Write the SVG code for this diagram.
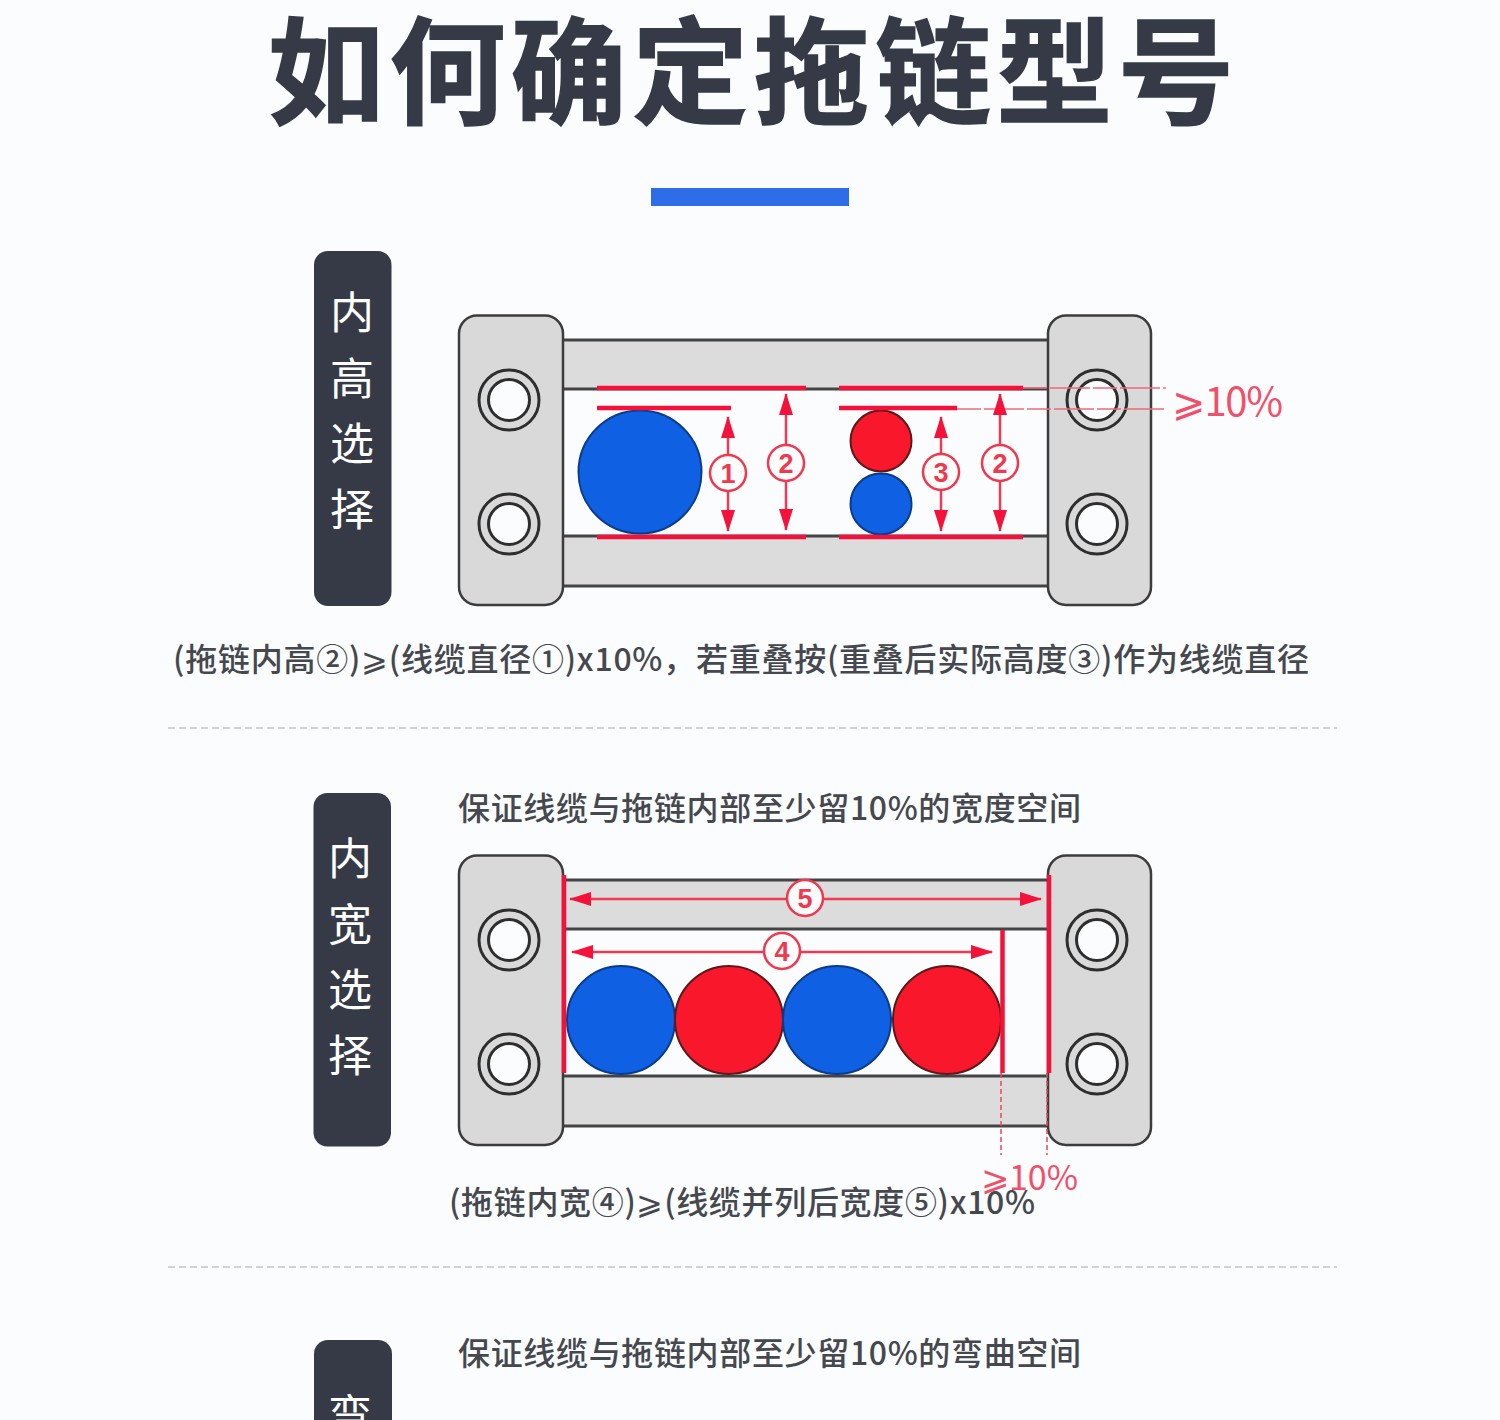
<svg xmlns="http://www.w3.org/2000/svg" xmlns:xlink="http://www.w3.org/1999/xlink" width="1500" height="1420" viewBox="0 0 1500 1420">
<style>
text{font-family:"Liberation Sans","Noto Sans CJK SC",sans-serif}
.cjk{font-family:"Noto Sans CJK SC",sans-serif}
.title{font-size:116px;font-weight:700;fill:#353a46;stroke:#353a46;stroke-width:1.500;font-family:"Noto Sans CJK SC",sans-serif}
.cap{font-size:32px;font-weight:500;fill:#45484e;font-family:"Noto Sans CJK SC",sans-serif}
.side{font-size:44px;fill:#fff;text-anchor:middle;font-family:"Noto Sans CJK SC",sans-serif}
.pill{fill:#353a46}
.block{fill:#d9d9d9;stroke:#3c3c3c;stroke-width:2.5}
.bar{fill:#dcdcdc}
.edge{stroke:#444;stroke-width:3;fill:none}
.holeo{fill:none;stroke:#2e2e2e;stroke-width:3}
.holei{fill:#fbfcfe;stroke:#2e2e2e;stroke-width:3}
.blue{fill:#0f60e2;stroke:#0b3c8c;stroke-width:2}
.red{fill:#f8172b;stroke:#5a1a1a;stroke-width:2}
.rl{stroke:#f4123a;stroke-width:4.5;fill:none}
.arr{stroke:#f03a52;stroke-width:2.5;fill:none;marker-start:url(#ah);marker-end:url(#ah)}
.dash{stroke:#ee6a7c;stroke-width:1.5;fill:none;stroke-dasharray:24 3 40 3}
.dash2{stroke:#e8485e;stroke-width:1.5;fill:none;stroke-dasharray:5 3}
.num{fill:#fdfdfe;stroke:#f0384f;stroke-width:2.5}
.numt{font-size:27px;font-weight:700;fill:#f0384f;text-anchor:middle}
.pct{fill:#f2506a}
.div{stroke:#d0d2d4;stroke-width:2;stroke-dasharray:7 4;fill:none}
</style>
<defs>
<marker id="ah" viewBox="0 0 22 14" refX="21" refY="7" markerWidth="22" markerHeight="14" markerUnits="userSpaceOnUse" orient="auto-start-reverse"><path d="M0 0L22 7L0 14Z" fill="#f4123a"/></marker>
<g id="chain">
<rect class="bar" x="563" y="340" width="486" height="49"/>
<rect class="bar" x="563" y="537" width="486" height="49"/>
<path class="edge" d="M563 340H1049M563 389H1049M563 536H1049M563 586H1049"/>
<rect class="block" x="459" y="315.500" width="104" height="289.500" rx="18"/>
<rect class="block" x="1048" y="315.500" width="103" height="289.500" rx="18"/>
<circle class="holeo" cx="509" cy="400" r="30"/><circle class="holei" cx="509" cy="400" r="20.500"/>
<circle class="holeo" cx="509" cy="524" r="30"/><circle class="holei" cx="509" cy="524" r="20.500"/>
<circle class="holeo" cx="1097" cy="400" r="30"/><circle class="holei" cx="1097" cy="400" r="20.500"/>
<circle class="holeo" cx="1097" cy="524" r="30"/><circle class="holei" cx="1097" cy="524" r="20.500"/>
</g>
</defs>
<rect width="1500" height="1420" fill="#fbfcfe"/>
<g id="title">
<text class="title" x="268" y="115" textLength="966" lengthAdjust="spacing">如何确定拖链型号</text>
<rect x="651" y="188" width="198" height="18" fill="#2e6de8"/>
</g>
<g id="label-height"><rect class="pill" x="314" y="251" width="77.500" height="355" rx="14"/>
<text class="side" x="352" y="329">内</text><text class="side" x="352" y="395">高</text><text class="side" x="352" y="460">选</text><text class="side" x="352" y="526">择</text></g>
<g id="label-width"><rect class="pill" x="313.500" y="793" width="77.500" height="353.500" rx="14"/>
<text class="side" x="350" y="875">内</text><text class="side" x="350" y="941">宽</text><text class="side" x="350" y="1006">选</text><text class="side" x="350" y="1072">择</text></g>
<g id="label-bend"><path class="pill" d="M314 1420V1354a14 14 0 0 1 14-14h50a14 14 0 0 1 14 14V1420Z"/>
<text class="side" x="350" y="1432">弯</text></g>

<g id="height-diagram">
<use xlink:href="#chain" href="#chain"/>
<circle class="blue" cx="640" cy="472" r="61.500"/>
<circle class="red" cx="881" cy="441" r="30.500"/>
<circle class="blue" cx="881" cy="504" r="30.500"/>
<path class="rl" d="M597 388H806M597 408H731M597 537H806M839 388H1023M839 408H957M839 537H1023"/>
<path class="dash" d="M1023 388H1166M957 409H1165"/>
<text class="pct cjk" x="1172" y="416" font-size="40" textLength="111">⩾10%</text>
</g>
<g id="width-diagram">
<use xlink:href="#chain" href="#chain" y="540"/>
<circle class="blue" cx="621" cy="1020" r="54"/>
<circle class="red" cx="729" cy="1020" r="54"/>
<circle class="blue" cx="837" cy="1020" r="54"/>
<circle class="red" cx="947" cy="1020" r="54"/>
<path class="rl" d="M564 875V1073M1049 875V1073M1002.500 930V1073"/>
<path class="dash2" d="M1001 1073V1155M1047 1073V1155"/>
<text class="pct cjk" x="981" y="1190" font-size="34" textLength="97">⩾10%</text>
</g>

<g id="connectors">
<path class="arr" d="M728 417V531"/>
<path class="arr" d="M786 394V530"/>
<path class="arr" d="M941 417V531"/>
<path class="arr" d="M1000 394V531"/>
<path class="arr" d="M570 899H1041"/>
<path class="arr" d="M572 952H992"/>
</g>
<g id="num-1"><circle class="num" cx="728" cy="473" r="18"/><text class="numt" x="728" y="483">1</text></g>
<g id="num-2a"><circle class="num" cx="786" cy="463" r="18"/><text class="numt" x="786" y="473">2</text></g>
<g id="num-3"><circle class="num" cx="941" cy="472" r="18"/><text class="numt" x="941" y="482">3</text></g>
<g id="num-2b"><circle class="num" cx="1000" cy="463" r="18"/><text class="numt" x="1000" y="473">2</text></g>
<g id="num-5"><circle class="num" cx="805" cy="898" r="18"/><text class="numt" x="805" y="908">5</text></g>
<g id="num-4"><circle class="num" cx="782" cy="951" r="18"/><text class="numt" x="782" y="961">4</text></g>

<g id="captions">
<text class="cap" x="173" y="671" textLength="1136">(拖链内高②)⩾(线缆直径①)x10%，若重叠按(重叠后实际高度③)作为线缆直径</text>
<text class="cap" x="458" y="820" textLength="623">保证线缆与拖链内部至少留10%的宽度空间</text>
<text class="cap" x="449" y="1214" textLength="586">(拖链内宽④)⩾(线缆并列后宽度⑤)x10%</text>
<text class="cap" x="458" y="1365" textLength="623">保证线缆与拖链内部至少留10%的弯曲空间</text>
</g>
<g id="dividers">
<path class="div" d="M168 728H1337M168 1267H1337"/>
</g>
</svg>
